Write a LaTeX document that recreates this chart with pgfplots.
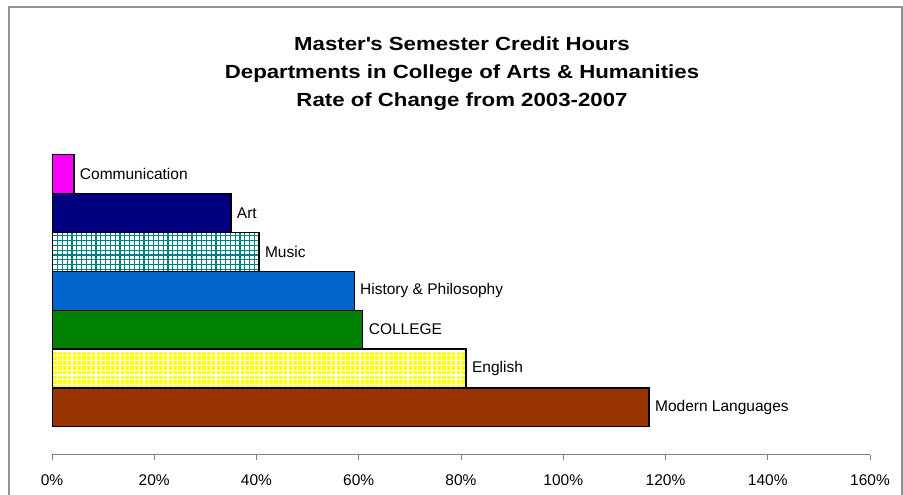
\documentclass[border=0pt]{standalone}
\usepackage{pgfplots}
\pgfplotsset{compat=1.18}
\usepackage{fontspec}
\setmainfont{Liberation Sans}
\newfontfamily\titlefont[FakeStretch=1.17]{Liberation Sans}
\usetikzlibrary{patterns}

\definecolor{commpink}{RGB}{255,0,255}
\definecolor{artnavy}{RGB}{0,0,128}
\definecolor{musicteal}{RGB}{0,128,128}
\definecolor{histblue}{RGB}{0,102,204}
\definecolor{collgreen}{RGB}{0,128,0}
\definecolor{engyellow}{RGB}{255,255,0}
\definecolor{modbrown}{RGB}{153,51,0}

% small square grid, closer than the tikz one
\pgfdeclarepatternformonly{mygrid}{\pgfqpoint{-1pt}{-1pt}}{\pgfqpoint{6pt}{6pt}}{\pgfqpoint{4.8pt}{4.8pt}}{
  \pgfsetlinewidth{1.2pt}
  \pgfpathmoveto{\pgfqpoint{0pt}{0pt}}\pgfpathlineto{\pgfqpoint{0pt}{4.8pt}}
  \pgfpathmoveto{\pgfqpoint{0pt}{0pt}}\pgfpathlineto{\pgfqpoint{4.8pt}{0pt}}
  \pgfusepath{stroke}
}

\begin{document}
\begin{tikzpicture}
\path[use as bounding box] (0,0) rectangle (903pt,495pt);
\draw[gray!85, line width=1.3pt] (9pt,-2pt) -- (9pt,488pt) -- (902pt,488pt) -- (902pt,-2pt);
\begin{axis}[
  at={(52pt,40pt)}, anchor=south west,
  scale only axis, width=818pt, height=305pt,
  xmin=0, xmax=160, ymin=-1.226, ymax=6.62,
  xbar, bar shift=0pt, bar width=1,
  axis x line*=bottom, axis y line=none,
  axis line style={-},
  x axis line style={draw=gray, line width=1pt},
  xtick={0,20,...,160},
  xticklabel={\pgfmathprintnumber{\tick}\%},
  /pgf/number format/assume math mode=true,
  tick align=outside, major tick length=5pt,
  xtick style={draw=gray, line width=1pt},
  ytick=\empty,
  tick label style={font=\fontsize{15.5}{18}\selectfont},
  xticklabel style={yshift=-11pt},
  point meta=explicit symbolic,
  nodes near coords, nodes near coords align=horizontal,
  every node near coord/.append style={font=\fontsize{15.5}{18}\selectfont, text=black, anchor=west, xshift=2pt},
  title={Master\textquotesingle s Semester Credit Hours\\Departments in College of Arts \& Humanities\\Rate of Change from 2003-2007},
  title style={align=center, font=\titlefont\bfseries\fontsize{19}{28}\selectfont, at={(0.5,1)}, anchor=center, yshift=70pt, xshift=1pt},
]
\addplot[draw=black, line width=1.3pt, fill=modbrown] coordinates {(116.8,0) [Modern Languages]};
\addplot[draw=black, line width=1.3pt, preaction={fill=engyellow}, pattern=mygrid, pattern color=white] coordinates {(81.0,1) [English]};
\addplot[draw=black, line width=1.3pt, fill=collgreen] coordinates {(60.8,2) [COLLEGE]};
\addplot[draw=black, line width=1.3pt, fill=histblue] coordinates {(59.1,3) [History \& Philosophy]};
\addplot[draw=black, line width=1.3pt, preaction={fill=white}, pattern=mygrid, pattern color=musicteal] coordinates {(40.5,4) [Music]};
\addplot[draw=black, line width=1.3pt, fill=artnavy] coordinates {(35.0,5) [Art]};
\addplot[draw=black, line width=1.3pt, fill=commpink] coordinates {(4.3,6) [Communication]};
\end{axis}
\end{tikzpicture}
\end{document}
